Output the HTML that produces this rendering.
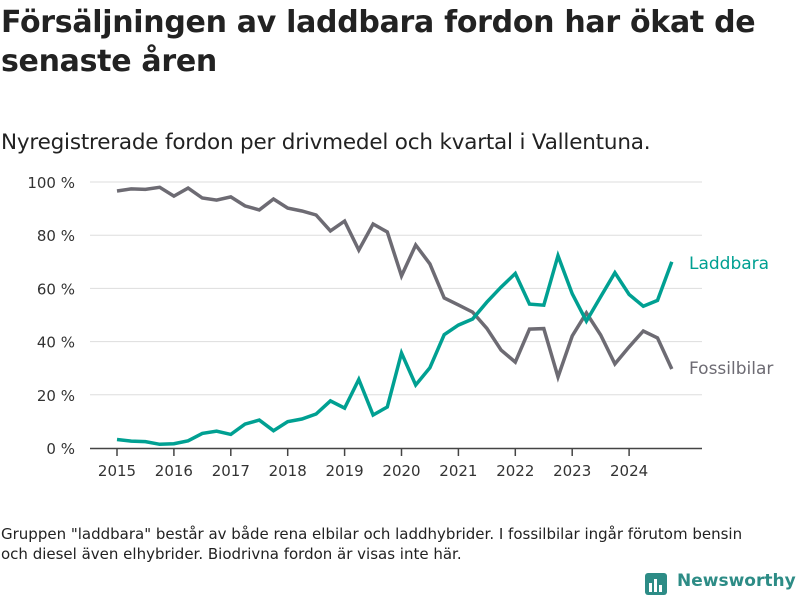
<!DOCTYPE html>
<html><head><meta charset="utf-8">
<style>
body{margin:0;width:800px;height:600px;background:#fff;font-family:"DejaVu Sans","Liberation Sans",sans-serif;color:#222;overflow:hidden;position:relative}
#title{position:absolute;left:1px;top:3px;font-size:30px;font-weight:bold;line-height:39px;width:790px;letter-spacing:-0.3px}
#sub{position:absolute;left:1px;top:130px;font-size:21.5px;letter-spacing:-0.2px}
#note{position:absolute;left:1px;top:524px;font-size:15px;line-height:20px;width:745px}
#logo{position:absolute;left:645px;top:571px;font-size:17px;font-weight:bold;color:#2d8c86}
svg{position:absolute;left:0;top:0}
</style></head><body>
<div id="title">Försäljningen av laddbara fordon har ökat de senaste åren</div>
<div id="sub">Nyregistrerade fordon per drivmedel och kvartal i Vallentuna.</div>
<svg id="chart" width="800" height="600"></svg>
<div id="note">Gruppen "laddbara" består av både rena elbilar och laddhybrider. I fossilbilar ingår förutom bensin och diesel även elhybrider. Biodrivna fordon är visas inte här.</div>
<div id="logo"><svg width="24" height="26" style="position:absolute;left:0;top:0"><rect x="0" y="2" width="22" height="22" rx="3" fill="#2d8c86"/><rect x="4" y="12" width="3" height="9" fill="#fff"/><rect x="9" y="8" width="3" height="13" fill="#fff"/><rect x="14" y="14" width="3" height="7" fill="#fff"/></svg><span style="margin-left:32px">Newsworthy</span></div>
<script>
const years=[2015,2016,2017,2018,2019,2020,2021,2022,2023,2024];
const yTicks=[0,20,40,60,80,100];
const laddbara=[3.2,2.6,2.4,1.4,1.6,2.7,5.5,6.3,5.1,9,10.5,6.5,9.9,10.9,12.8,17.7,15,25.8,12.4,15.4,35.7,23.7,30.2,42.6,46.2,48.5,54.8,60.5,65.6,54.1,53.7,72.3,58,47.7,56.8,65.9,57.7,53.3,55.5,70];
const fossil=[96.6,97.4,97.2,98,94.7,97.7,94,93.2,94.4,91,89.5,93.6,90.2,89.1,87.6,81.6,85.3,74.4,84.2,81.2,64.7,76.3,69.2,56.4,53.8,51.1,45,36.8,32.3,44.7,44.9,26.7,42.1,50.8,42.5,31.6,38,44,41.4,29.7];
const svg=document.getElementById('chart');const NS='http://www.w3.org/2000/svg';
const X=t=>117+(t-2015)*56.9;const Y=v=>448-v*2.66;
function mk(tag,attrs,txt){const e=document.createElementNS(NS,tag);for(const k in attrs)e.setAttribute(k,attrs[k]);if(txt!=null)e.textContent=txt;svg.appendChild(e);return e;}
yTicks.forEach(v=>{
 if(v>0){const g=mk('line',{x1:90,x2:702,y1:Y(v),y2:Y(v),stroke:'#ddd','stroke-width':1});
 
 }
 const t=mk('text',{x:75,y:Y(v)+6,'text-anchor':'end','font-size':15,fill:'#333'},v+' %');
 
 
});
const ax=mk('line',{x1:90,x2:702,y1:448.5,y2:448.5,stroke:'#444','stroke-width':1.5});


years.forEach(y=>{
 const tk=mk('line',{x1:X(y),x2:X(y),y1:448,y2:456,stroke:'#444','stroke-width':1.5});
 
 
 const t=mk('text',{x:X(y),y:476,'text-anchor':'middle','font-size':15,fill:'#333'},y);
 
 
});
function line(data,color,name){
 const d=data.map((v,i)=>(i?'L':'M')+X(2015+i*0.25).toFixed(1)+' '+Y(v).toFixed(1)).join(' ');
 const p=mk('path',{d:d,fill:'none',stroke:color,'stroke-width':3.5,'stroke-linejoin':'miter'});
 
 
}
line(fossil,'#6d6b73','fossilbilar-line');
line(laddbara,'#00a092','laddbara-line');
const l1=mk('text',{x:689,y:269,'font-size':17,fill:'#00a092'},'Laddbara');


const l2=mk('text',{x:689,y:374,'font-size':17,fill:'#6d6b73'},'Fossilbilar');


</script>
</body></html>
